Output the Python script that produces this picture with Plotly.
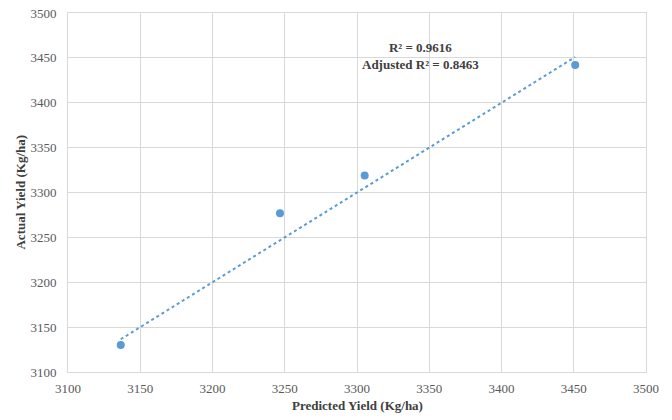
import plotly.graph_objects as go

predicted = [3136.5, 3246.7, 3305.3, 3451.0]
actual = [3130.0, 3277.0, 3319.0, 3442.0]
r2_text = "R² = 0.9616"
adj_r2_text = "Adjusted R² = 0.8463"
x_title = "Predicted Yield (Kg/ha)"
y_title = "Actual Yield (Kg/ha)"
x_ticks = [3100, 3150, 3200, 3250, 3300, 3350, 3400, 3450, 3500]
y_ticks = [3100, 3150, 3200, 3250, 3300, 3350, 3400, 3450, 3500]

blue = "#5b9bd5"
serif = "Liberation Serif, Times New Roman, serif"

line_x = [min(predicted), max(predicted)]
line_y = line_x

fig = go.Figure()
fig.add_trace(go.Scatter(x=line_x, y=line_y, mode="lines",
                         line=dict(color=blue, width=2, dash="dot"),
                         hoverinfo="skip", showlegend=False))
fig.add_trace(go.Scatter(x=predicted, y=actual, mode="markers",
                         marker=dict(color=blue, size=8),
                         showlegend=False))

fig.add_annotation(x=3344, y=3452, xref="x", yref="y",
                   text=f"<b>{r2_text}</b><br><b>{adj_r2_text}</b>",
                   showarrow=False, align="center",
                   font=dict(family=serif, size=13, color="#404040"),
                   xanchor="center", yanchor="middle")

fig.add_annotation(x=0.5, y=-0.092, xref="paper", yref="paper",
                   text=f"<b>{x_title}</b>", showarrow=False,
                   font=dict(family=serif, size=13, color="#404040"),
                   xanchor="center", yanchor="middle")
fig.add_annotation(x=-0.083, y=0.5, xref="paper", yref="paper",
                   text=f"<b>{y_title}</b>", showarrow=False, textangle=-90,
                   font=dict(family=serif, size=13, color="#404040"),
                   xanchor="center", yanchor="middle")

axis_common = dict(showgrid=True, gridcolor="#d9d9d9", gridwidth=1,
                   showline=True, linecolor="#d9d9d9", linewidth=1, mirror=True,
                   zeroline=False, ticks="", automargin=False,
                   tickfont=dict(family=serif, size=13, color="#595959"))

fig.update_xaxes(range=[3100, 3500], tickvals=x_ticks, ticklabelstandoff=4, **axis_common)
fig.update_yaxes(range=[3100, 3500], tickvals=y_ticks, ticklabelstandoff=8, **axis_common)

fig.update_layout(width=672, height=420,
                  margin=dict(l=68, r=26, t=13, b=48),
                  plot_bgcolor="white", paper_bgcolor="white")

fig.write_html("out.html", config={"displayModeBar": False},
               post_script="document.body.style.margin='0';document.body.style.overflow='hidden';")
